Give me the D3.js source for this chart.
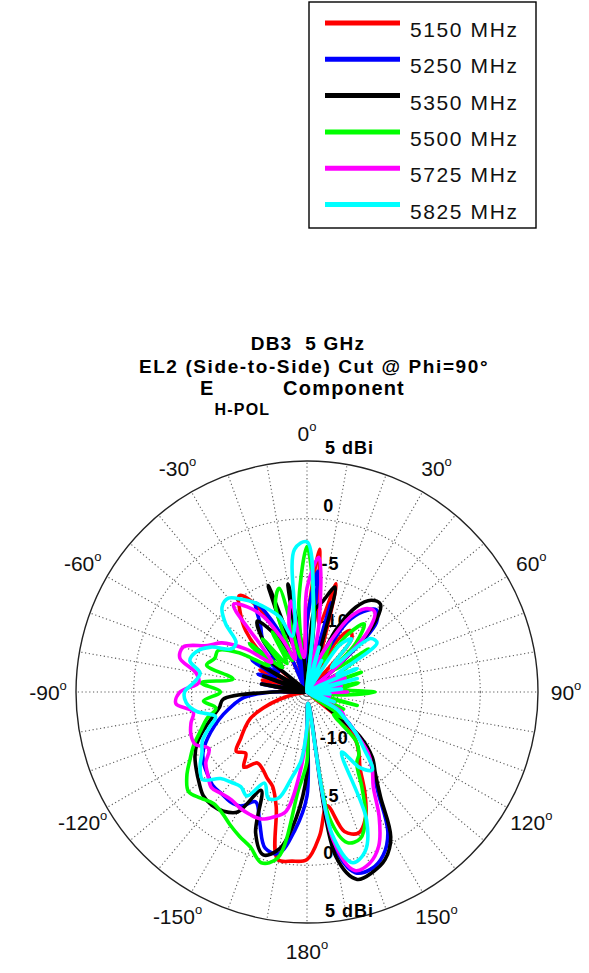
<!DOCTYPE html>
<html><head><meta charset="utf-8">
<script src="https://cdn.jsdelivr.net/npm/d3@7"></script>
<style>
body{margin:0;background:#fff}
svg{display:block}
text{font-family:"Liberation Sans",Arial,Helvetica,sans-serif;white-space:pre}
</style>
</head><body>
<svg id="chart" width="589" height="973"></svg>
<script>
// ---------------- data ----------------
const angles = [-180,-175,-170,-165,-160,-155,-150,-145,-140,-135,-130,-125,-120,-115,-110,-105,-100,-95,-90,-85,-80,-75,-70,-65,-60,-55,-50,-45,-40,-35,-30,-25,-20,-15,-10,-5,0,5,10,15,20,25,30,35,40,45,50,55,60,65,70,75,80,85,90,95,100,105,110,115,120,125,130,135,140,145,150,155,160,165,170,175];

const seriesNames = ["5150 MHz","5250 MHz","5350 MHz","5500 MHz","5725 MHz","5825 MHz"];
const seriesColors = ["#ff0000","#0000ff","#000000","#00ff00","#ff00ff","#00ffff"];

const gain5150 = [-0.5,-0.3,-0.3,-4.7,-6.3,-6.8,-7.3,-7.5,-6.5,-7.5,-7.0,-8.0,-8.8,-9.6,-11,-12.5,-14,-16,-13,-16,-12,-11,-13,-10.5,-12,-16,-10,-7.5,-6,-4.8,-6.5,-12,-16,-10,-16,-12,-9,-2.6,-9,-5.3,-12,-16,-10,-8.5,-9,-16,-12,-16,-13,-16,-12.5,-16,-12,-16,-12.5,-16,-16,-13,-16,-16,-12.5,-16,-10.5,-9,-8,-7,-5,-3,-2,-2.5,-5,-2.5];
const gain5250 = [-6,-3,-0.8,-1.0,-3.0,-4.5,-3.6,-3.4,-3.5,-3.5,-3.8,-4.1,-4.6,-5.5,-6.5,-7.5,-8.5,-9.5,-12,-16,-11,-16,-10.5,-12,-9.5,-12,-9,-11,-9,-8,-6.1,-9,-16,-10,-8.5,-16,-9,-4.5,-12,-7,-16,-12,-8,-6.5,-5.7,-6.5,-12,-16,-11.5,-16,-12,-16,-12,-16,-11.5,-16,-13,-16,-16,-12.5,-16,-11,-9.5,-7.5,-6.2,-4.2,-1,0.6,1.3,1.2,-1.5,-14];
const gain5350 = [-8,-4,-1.2,-0.4,-2.0,-5.6,-3.0,-2.4,-2.2,-2.3,-2.8,-3.3,-3.8,-4.5,-5.5,-6.5,-7.3,-7.7,-12,-16,-11,-16,-11,-16,-10.5,-16,-10,-12,-9,-7.5,-9,-11,-5.2,-11,-5.5,-12,-16,-8,-7,-5.6,-12,-9,-6.5,-5.3,-5.1,-7,-12,-16,-12,-16,-11.5,-16,-12,-16,-11.5,-16,-13,-16,-12.5,-16,-11.5,-13,-9,-7,-5.8,-3.9,-0.5,1.0,1.6,1.8,-0.5,-14];
const gain5500 = [-9,-6.5,-0.4,0.3,-0.7,-1.2,-1.7,-2.2,-2.4,-2.0,-1.6,-2.3,-3.3,-4.2,-5.2,-6.0,-7.0,-6.0,-7.5,-5.8,-8.5,-6.0,-6.5,-6.5,-8.2,-11,-8.5,-12,-9,-12,-9,-12,-7,-5.7,-12,-7,-2.4,-8,-16,-11,-16,-10,-12,-9,-7.3,-9,-12,-8.5,-12,-16,-10,-16,-10.5,-12,-9.1,-12,-16,-10.5,-16,-11.5,-16,-11,-12,-9,-8,-7.5,-5.5,-3,-1.5,-1.5,-4,-14];
const gain5725 = [-12,-8,-4.5,-3.8,-3.3,-3.3,-3.4,-3.6,-3.5,-3.3,-3.8,-4.3,-5.2,-4.3,-4.3,-4.6,-5.0,-3.6,-4.0,-5.6,-5.2,-3.6,-3.6,-5.5,-6.5,-8.5,-11,-9.5,-5.1,-6,-7.5,-10,-12,-9,-7,-12,-6,-3.3,-9,-16,-12,-10,-7.5,-6.2,-5.9,-7.5,-12,-16,-11.5,-16,-11.5,-16,-12,-16,-11.5,-16,-13,-16,-12.5,-16,-11.5,-11,-9.5,-7.5,-6.2,-5,-2.5,-0.3,0.8,1.0,-2,-14];
const gain5825 = [-12,-9,-7.5,-5.5,-5.2,-6.3,-4.6,-5.0,-4.8,-4.4,-3.2,-3.7,-4.5,-5.0,-6.0,-6.8,-5.3,-4.5,-4.4,-5.2,-5.6,-4.5,-4.8,-5.8,-7.5,-7.5,-5.8,-4.6,-4.4,-5.2,-6.1,-7.1,-8.1,-10,-9,-2.6,-2.0,-9,-16,-11,-16,-12,-16,-10,-9,-12,-7.8,-7.6,-12,-10.2,-16,-10.5,-16,-12,-16,-13,-16,-16,-12.5,-16,-12,-11,-9.5,-8,-6.2,-7,-9,-2.8,-0.3,0.3,-2.5,-14];

const ringValues = [-10,-5,0,5];
const ringLabels = ["-10","-5","0","5 dBi"];
const angleTicks = [0,30,60,90,120,150,180,-150,-120,-90,-60,-30];
const angleTickLabels = ["0","30","60","90","120","150","180","-150","-120","-90","-60","-30"];
const titleLine1 = "DB3  5 GHz";
const titleLine2 = "EL2 (Side-to-Side) Cut @ Phi=90\u00b0";
const titleLine3Main = "E";
const titleLine3Sub = "H-POL";
const titleLine3Rest = " Component";

// ---------------- drawing ----------------
const seriesGains = [gain5150, gain5250, gain5350, gain5500, gain5725, gain5825];
const svg = d3.select("#chart");
const cx = 307, cy = 692, R = 231;
const rScale = d3.scaleLinear().domain([-15, 5]).range([0, R]).clamp(true);
const g = svg.append("g").attr("transform", `translate(${cx},${cy})`);
const toRad = d => d * Math.PI / 180;

// grid spokes every 10 degrees
const spokeAngles = d3.range(0, 360, 10);
g.selectAll("line.spoke").data(spokeAngles).join("line")
  .attr("x1", 0).attr("y1", 0)
  .attr("x2", d => R * Math.sin(toRad(d)))
  .attr("y2", d => -R * Math.cos(toRad(d)))
  .attr("stroke", "#5a5a5a").attr("stroke-width", 1.1)
  .attr("stroke-dasharray", "1.2,2.6");

// dotted rings
g.selectAll("circle.ring").data(ringValues.filter(v => v < 5)).join("circle")
  .attr("r", d => rScale(d)).attr("fill", "none")
  .attr("stroke", "#5a5a5a").attr("stroke-width", 1.1)
  .attr("stroke-dasharray", "1.2,2.6");

// outer circle
g.append("circle").attr("r", rScale(5)).attr("fill", "none")
  .attr("stroke", "#222").attr("stroke-width", 1.4);

// ring labels (top and bottom)
ringValues.forEach((v, i) => {
  const rr = rScale(v);
  const x = 11 + 0.03 * rr;
  [-rr - 7, rr - 6].forEach(y => {
    g.append("text").attr("x", x).attr("y", y)
      .attr("font-size", 18).attr("font-weight", "bold")
      .attr("letter-spacing", 1).attr("fill", "#000")
      .text(ringLabels[i]);
  });
});

// angle labels
const labR = 259;
angleTicks.forEach((a, i) => {
  const t = g.append("text")
    .attr("x", labR * Math.sin(toRad(a)))
    .attr("y", -labR * Math.cos(toRad(a)) + 8)
    .attr("text-anchor", "middle").attr("font-size", 21).attr("fill", "#111");
  t.append("tspan").text(angleTickLabels[i]);
  t.append("tspan").attr("font-size", 13).attr("dy", -10).text("o");
});

// curves
const line = d3.lineRadial()
  .angle(d => toRad(d[0]))
  .radius(d => rScale(d[1]))
  .curve(d3.curveCatmullRomClosed.alpha(0.5));

seriesGains.forEach((gains, si) => {
  const pts = angles.map((a, k) => [a, gains[k]]);
  g.append("path").attr("d", line(pts))
    .attr("fill", "none").attr("stroke", seriesColors[si])
    .attr("stroke-width", 3.6).attr("stroke-linejoin", "round");
});

// title
svg.append("text").attr("x", 308).attr("y", 350).attr("text-anchor", "middle")
  .attr("font-size", 19).attr("font-weight", "bold").attr("letter-spacing", 1.2)
  .text(titleLine1);
svg.append("text").attr("x", 314).attr("y", 373).attr("text-anchor", "middle")
  .attr("font-size", 19).attr("font-weight", "bold").attr("letter-spacing", 1.6)
  .text(titleLine2);
const t3 = svg.append("text").attr("x", 200).attr("y", 395)
  .attr("font-size", 20).attr("font-weight", "bold").attr("letter-spacing", 1.2);
t3.append("tspan").text(titleLine3Main);
t3.append("tspan").attr("font-size", 16).attr("dy", 20).text(titleLine3Sub);
t3.append("tspan").attr("dy", -20).attr("dx", 6).text(titleLine3Rest);

// legend
const lg = svg.append("g");
lg.append("rect").attr("x", 309).attr("y", 2).attr("width", 227).attr("height", 226)
  .attr("fill", "#fff").attr("stroke", "#000").attr("stroke-width", 1.4);
seriesNames.forEach((name, i) => {
  const y = 23 + i * 36.3;
  lg.append("line").attr("x1", 325).attr("x2", 400).attr("y1", y).attr("y2", y)
    .attr("stroke", seriesColors[i]).attr("stroke-width", 5);
  lg.append("text").attr("x", 410).attr("y", y + 14)
    .attr("font-size", 21).attr("letter-spacing", 1.6).attr("fill", "#111")
    .text(name);
});
</script>
</body></html>
